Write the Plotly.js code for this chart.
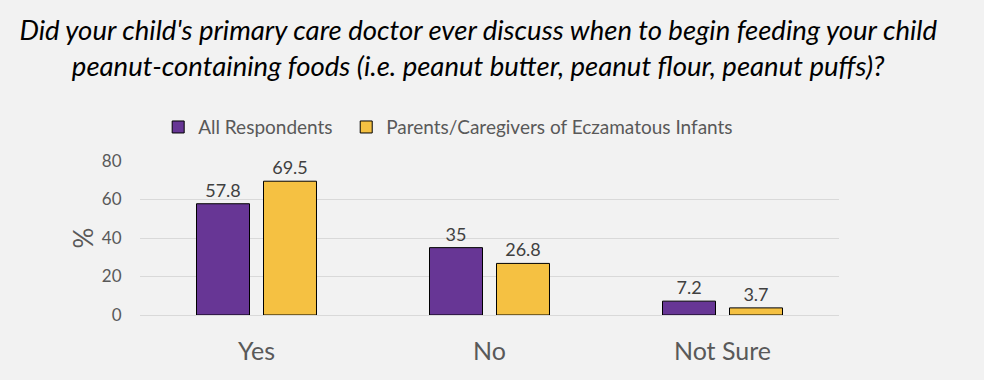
<!DOCTYPE html>
<html>
<head>
<meta charset="utf-8">
<script src="https://cdn.plot.ly/plotly-3.0.1.min.js"></script>
<style>html,body{margin:0;padding:0;background:#F2F2F2;}</style>
</head>
<body>
<div id="chart" style="width:984px;height:380px;"></div>
<script>
const categories = ["Yes", "No", "Not Sure"];
const seriesNames = ["All Respondents", "Parents/Caregivers of Eczamatous Infants"];
const allRespondents = [57.8, 35, 7.2];
const eczemaParents = [69.5, 26.8, 3.7];
const yTicks = [0, 20, 40, 60, 80];
const titleText = "Did your child's primary care doctor ever discuss when to begin feeding your child<br>peanut-containing foods (i.e. peanut butter, peanut flour, peanut puffs)?";

const FONT = "Lato, 'Open Sans', sans-serif";
const colors = ["#673695", "#F5C142"];

function barTrace(name, vals, color, legendRef) {
  return {
    type: "bar",
    name: name,
    x: categories,
    y: vals,
    text: vals.map(v => String(v)),
    textposition: "outside",
    cliponaxis: false,
    textfont: {family: FONT, size: 18, color: "#404040"},
    marker: {color: color, line: {color: "#000000", width: 1}},
    legend: legendRef,
    hoverinfo: "x+y"
  };
}

const data = [
  barTrace(seriesNames[0], allRespondents, colors[0], "legend"),
  barTrace(seriesNames[1], eczemaParents, colors[1], "legend2")
];

const legendBase = {
  orientation: "h",
  yanchor: "middle",
  y: 1.22,
  xanchor: "left",
  font: {family: FONT, size: 19, color: "#595959"},
  bgcolor: "rgba(0,0,0,0)"
};

const layout = {
  width: 984,
  height: 380,
  paper_bgcolor: "#F2F2F2",
  plot_bgcolor: "#F2F2F2",
  margin: {l: 140, r: 145, t: 161, b: 65},
  font: {family: FONT, color: "#595959"},
  title: {
    text: titleText,
    font: {family: FONT, size: 27.5, color: "#000000", style: "italic"},
    x: 0.486, xanchor: "center",
    y: 0.895, yanchor: "middle"
  },
  barmode: "group",
  bargap: 0.425,
  bargroupgap: 0.209,
  showlegend: true,
  legend: Object.assign({}, legendBase, {x: 0.026}),
  legend2: Object.assign({}, legendBase, {x: 0.295}),
  xaxis: {
    type: "category",
    tickfont: {family: FONT, size: 25, color: "#595959"},
    ticks: "outside", ticklen: 14, tickcolor: "rgba(0,0,0,0)",
    showline: false, showgrid: false, zeroline: false
  },
  yaxis: {
    range: [0, 80],
    tickvals: yTicks,
    tickfont: {family: FONT, size: 17, color: "#595959"},
    ticks: "outside", ticklen: 14, tickcolor: "rgba(0,0,0,0)",
    showgrid: true, gridcolor: "#D9D9D9", gridwidth: 1,
    zeroline: true, zerolinecolor: "#D9D9D9", zerolinewidth: 1,
    showline: false,
    title: {text: "%", font: {family: FONT, size: 26, color: "#595959"}, standoff: 0}
  }
};

Plotly.newPlot("chart", data, layout, {staticPlot: true, displayModeBar: false});
</script>
</body>
</html>
